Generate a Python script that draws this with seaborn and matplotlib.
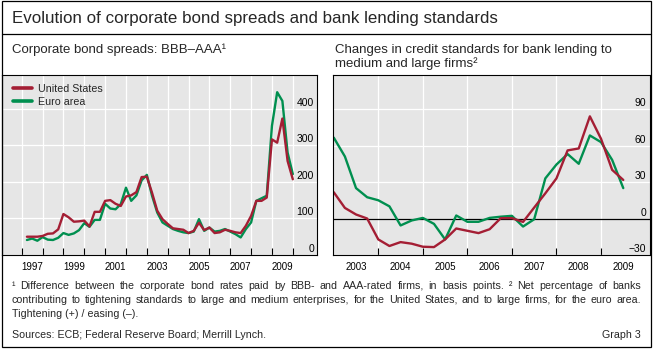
import numpy as np
import pandas as pd
import matplotlib
matplotlib.use("Agg")
import matplotlib.pyplot as plt
import matplotlib.transforms as mtransforms
from matplotlib.lines import Line2D
from matplotlib.patches import Rectangle
import seaborn as sns

# ---------------- data ----------------
# Corporate bond spreads BBB-AAA (basis points), quarterly 1997Q2 .. 2010Q1
us_spread = [50, 50, 50, 52, 58, 59, 70, 112, 103, 91, 92, 94, 78, 118, 118,
             148, 150, 140, 134, 160, 163, 172, 213, 214, 170, 121, 98, 85,
             73, 71, 69, 60, 66, 88, 68, 75, 60, 62, 69, 66, 62, 60, 80, 107,
             148, 148, 157, 316, 307, 373, 257, 207]
ea_spread = [41, 45, 39, 49, 42, 41, 47, 60, 55, 59, 68, 87, 77, 96, 96,
             140, 127, 125, 139, 184, 148, 163, 204, 219, 162, 116, 89, 80,
             71, 66, 62, 60, 64, 98, 66, 75, 64, 66, 71, 64, 57, 48, 71, 89,
             148, 155, 162, 353, 445, 421, 280, 221]
spread_start, spread_end = "1997Q2", "2010Q1"

# Credit standards, net percentage tightening, quarterly 2003Q1 .. 2009Q3
us_std = [21.6, 8.7, 3.3, 0, -17.2, -22.6, -19.4, -20.7, -23.2, -23.5, -17.2,
          -8.2, -10.1, -12, -8.8, 0.3, 0.3, -2.8, 9, 20.7, 33, 56, 57.6, 84,
          65.6, 40, 31.7]
ea_std = [66.5, 51, 25, 17.5, 15, 10, -5.7, -1.6, 0.5, -4.4, -17.2, 2.5,
          -2.7, -2.7, 0.5, 1.5, 2.2, -6.6, -0.6, 33, 44.4, 53, 45, 68.3, 62.8,
          48.2, 25]
std_start, std_end = "2003Q1", "2009Q3"

series_names = ["United States", "Euro area"]
left_year_labels = ["1997", "1999", "2001", "2003", "2005", "2007", "2009"]
right_year_labels = ["2003", "2004", "2005", "2006", "2007", "2008", "2009"]
left_y_ticks = [0, 100, 200, 300, 400]
right_y_ticks = [-30, 0, 30, 60, 90]

title = "Evolution of corporate bond spreads and bank lending standards"
left_title = "Corporate bond spreads: BBB\u2013AAA\u00b9"
right_title = ["Changes in credit standards for bank lending to",
               "medium and large firms\u00b2"]
foot1 = ("\u00b9 Difference between the corporate bond rates paid by BBB- and "
         "AAA-rated firms, in basis points.  \u00b2 Net percentage of banks")
foot2 = ("contributing to tightening standards to large and medium enterprises, "
         "for the United States, and to large firms, for the euro area.")
foot3 = "Tightening (+) / easing (\u2013)."
sources = "Sources: ECB; Federal Reserve Board; Merrill Lynch."
graph_no = "Graph 3"

RED = "#a41e34"
GREEN = "#008f4f"


def to_year(q):
    return q.year + (q.quarter - 1) / 4


left_df = pd.DataFrame({
    "t": [to_year(q) for q in pd.period_range(spread_start, spread_end, freq="Q")],
    "United States": us_spread,
    "Euro area": ea_spread,
})
right_df = pd.DataFrame({
    "t": [to_year(q) for q in pd.period_range(std_start, std_end, freq="Q")],
    "United States": us_std,
    "Euro area": ea_std,
})

# ---------------- style ----------------
sns.set_theme(style="darkgrid", rc={
    "axes.facecolor": "#e6e6e6",
    "grid.color": "white",
    "grid.linewidth": 0.9,
    "axes.edgecolor": "black",
    "axes.linewidth": 0.8,
})
plt.rcParams["font.family"] = ["Liberation Sans", "DejaVu Sans"]
plt.rcParams["axes.unicode_minus"] = True

W, H = 655, 349
fig = plt.figure(figsize=(W / 100, H / 100), dpi=100)
fig.patch.set_facecolor("white")


def fx(px):
    return px / W


def fy(py):
    return 1 - py / H


ax1 = fig.add_axes([fx(2), fy(255), (317 - 2) / W, 180 / H])
ax2 = fig.add_axes([fx(333), fy(255), (650 - 333) / W, 180 / H])

for ax, df in ((ax1, left_df), (ax2, right_df)):
    sns.lineplot(data=df, x="t", y="Euro area", color=GREEN, lw=1.7, ax=ax)
    sns.lineplot(data=df, x="t", y="United States", color=RED, lw=1.7, ax=ax)
    ax.set_xlabel("")
    ax.set_ylabel("")
    for s in ax.spines.values():
        s.set_visible(True)
        s.set_color("black")
        s.set_linewidth(0.8)

# x axes: major ticks at year boundaries, labels at mid-year (minor)
ax1.set_xlim(1996.055, 2011.16)
ax1.set_xticks(np.arange(1997, 2011))
ax1.set_xticks([int(y) + 0.5 for y in left_year_labels], minor=True)
ax1.set_xticklabels(left_year_labels, minor=True)
ax1.set_ylim(0, 492)
ax1.set_yticks(left_y_ticks)

ax2.set_xlim(2002.983, 2010.1)
ax2.set_xticks(np.arange(2004, 2010))
ax2.set_xticks([int(y) + 0.5 for y in right_year_labels], minor=True)
ax2.set_xticklabels(right_year_labels, minor=True)
ax2.set_ylim(-30, 118)
ax2.set_yticks(right_y_ticks)
ax2.axhline(0, color="black", lw=0.9, zorder=1.5)

for ax in (ax1, ax2):
    ax.grid(True, which="major", color="white", lw=0.9)
    ax.grid(False, which="minor")
    ax.tick_params(axis="x", which="major", direction="in", length=5,
                   width=0.8, color="black", bottom=True, labelbottom=False)
    ax.tick_params(axis="x", which="minor", length=0, labelsize=7,
                   pad=5, bottom=True, labelbottom=True, labelcolor="black")
    ax.tick_params(axis="y", which="both", length=0, labelleft=False,
                   labelright=False)


def ylabels(ax, vals, dx):
    base = mtransforms.blended_transform_factory(ax.transAxes, ax.transData)
    tr = mtransforms.offset_copy(base, fig=fig, x=dx, y=3, units="dots")
    for v in vals:
        s = str(v).replace("-", "\u2212")
        ax.text(1, v, s, transform=tr, ha="right", va="baseline",
                fontsize=7.5, color="black", zorder=5)


ylabels(ax1, left_y_ticks, -3)
ylabels(ax2, right_y_ticks, -4)

handles = [Line2D([], [], color=RED, lw=2.6), Line2D([], [], color=GREEN, lw=2.6)]
for ax in (ax1, ax2):
    if ax.get_legend() is not None:
        ax.get_legend().remove()
ax1.legend(handles, series_names, loc="upper left", bbox_to_anchor=(0.035, 0.95),
           frameon=False, fontsize=7.7, handlelength=1.8, handletextpad=0.5,
           labelspacing=0.3, borderpad=0, borderaxespad=0)

# ---------------- frame and texts ----------------
fig.add_artist(Rectangle((fx(2), fy(347)), (651 - 2) / W, (347 - 1) / H,
                         transform=fig.transFigure, fill=False, lw=0.9,
                         ec="black"))
fig.add_artist(Line2D([fx(2), fx(651)], [fy(34), fy(34)],
                      transform=fig.transFigure, color="black", lw=0.9))

fig.text(fx(12), fy(23), title, fontsize=12.2, va="baseline")
fig.text(fx(12), fy(53), left_title, fontsize=9.5, va="baseline")
fig.text(fx(335), fy(53), right_title[0], fontsize=9.5, va="baseline")
fig.text(fx(335), fy(67), right_title[1], fontsize=9.5, va="baseline")

renderer = fig.canvas.get_renderer()


def justify(line, x0, x1, y, size):
    words = line.split(" ")
    words = [w for w in words if w]
    texts = [fig.text(0, fy(y), w, fontsize=size, va="baseline") for w in words]
    widths = [t.get_window_extent(renderer).width for t in texts]
    gap = (x1 - x0 - sum(widths)) / (len(words) - 1)
    x = x0
    for t, w in zip(texts, widths):
        t.set_x(fx(x))
        x += w + gap


FS = 7.7
justify(foot1, 12, 641, 289, FS)
justify(foot2, 12, 641, 303, FS)
fig.text(fx(12), fy(317), foot3, fontsize=FS, va="baseline")
fig.text(fx(12), fy(338), sources, fontsize=FS, va="baseline")
fig.text(fx(641), fy(338), graph_no, fontsize=FS, va="baseline", ha="right")

fig.savefig("out.png", dpi=100)
